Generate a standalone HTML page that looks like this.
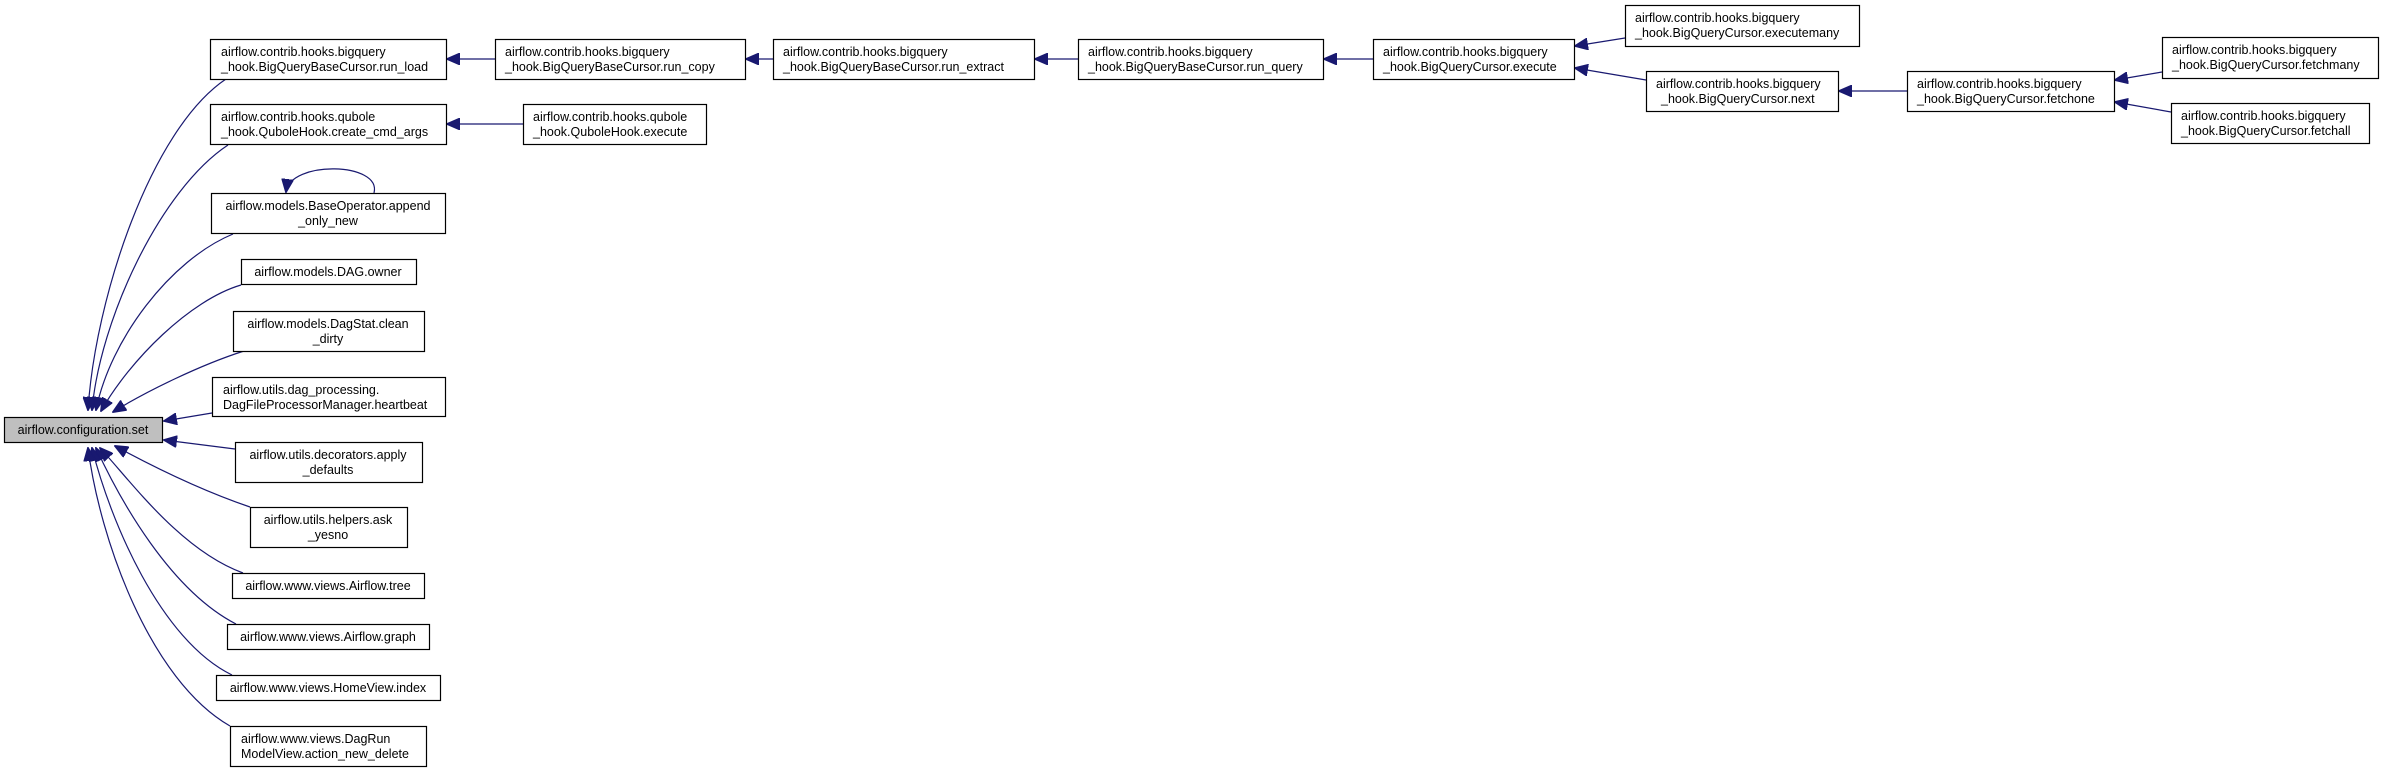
<!DOCTYPE html>
<html><head><meta charset="utf-8"><style>
html,body{margin:0;padding:0;background:#fff}
svg{display:block}
text{font-family:"Liberation Sans",Arial,sans-serif;font-size:12.5px;fill:#000}
rect{fill:#fff;stroke:#000;stroke-width:1.2}
path.e{fill:none;stroke:#191970;stroke-width:1.2}
</style></head><body>
<svg width="2385" height="772" viewBox="0 0 2385 772" xmlns="http://www.w3.org/2000/svg">
<defs><marker id="a" markerUnits="userSpaceOnUse" markerWidth="14" markerHeight="12" refX="13" refY="6" orient="auto"><path d="M0,0 L14,6 L0,12 z" fill="#191970" stroke="#191970"/></marker></defs>

<!-- edges -->
<g class="edges">
<path class="e" marker-end="url(#a)" d="M226,79 C150,130 95,300 88,410"/>
<path class="e" marker-end="url(#a)" d="M228,145 C160,190 100,320 92,410"/>
<path class="e" marker-end="url(#a)" d="M233,234 C170,260 110,340 96,410"/>
<path class="e" marker-end="url(#a)" d="M241,285 C190,300 130,360 101,411"/>
<path class="e" marker-end="url(#a)" d="M244,351 C200,365 145,392 113,412"/>
<path class="e" marker-end="url(#a)" d="M212,413 L164,421"/>
<path class="e" marker-end="url(#a)" d="M235,449 L164,440"/>
<path class="e" marker-end="url(#a)" d="M250,507 C200,490 150,465 115,446"/>
<path class="e" marker-end="url(#a)" d="M243,573 C180,550 130,480 100,448"/>
<path class="e" marker-end="url(#a)" d="M236,624 C170,590 120,500 96,448"/>
<path class="e" marker-end="url(#a)" d="M232,675 C160,640 110,520 92,448"/>
<path class="e" marker-end="url(#a)" d="M230,726 C150,680 100,540 88,448"/>
<path class="e" marker-end="url(#a)" d="M374,193 C382,162 290,160 286,192"/>
<path class="e" marker-end="url(#a)" d="M495,59 L447,59"/>
<path class="e" marker-end="url(#a)" d="M523,124 L447,124"/>
<path class="e" marker-end="url(#a)" d="M773,59 L746,59"/>
<path class="e" marker-end="url(#a)" d="M1078,59 L1035,59"/>
<path class="e" marker-end="url(#a)" d="M1373,59 L1324,59"/>
<path class="e" marker-end="url(#a)" d="M1625,38 L1575,46"/>
<path class="e" marker-end="url(#a)" d="M1646,80 L1575,68"/>
<path class="e" marker-end="url(#a)" d="M1907,91 L1839,91"/>
<path class="e" marker-end="url(#a)" d="M2162,72 L2115,80"/>
<path class="e" marker-end="url(#a)" d="M2171,112 L2115,102"/>
</g>

<!-- nodes -->
<rect x="4.5" y="417.5" width="158" height="25" style="fill:#bfbfbf"/>
<text x="83" y="434" text-anchor="middle">airflow.configuration.set</text>

<rect x="210.5" y="39.5" width="236" height="40"/>
<text x="221" y="56">airflow.contrib.hooks.bigquery</text><text x="221" y="71">_hook.BigQueryBaseCursor.run_load</text>

<rect x="210.5" y="104.5" width="236" height="40"/>
<text x="221" y="121">airflow.contrib.hooks.qubole</text><text x="221" y="136">_hook.QuboleHook.create_cmd_args</text>

<rect x="211.5" y="193.5" width="234" height="40"/>
<text x="328" y="210" text-anchor="middle">airflow.models.BaseOperator.append</text><text x="328" y="225" text-anchor="middle">_only_new</text>

<rect x="241.5" y="259.5" width="175" height="25"/>
<text x="328" y="276" text-anchor="middle">airflow.models.DAG.owner</text>

<rect x="233.5" y="311.5" width="191" height="40"/>
<text x="328" y="328" text-anchor="middle">airflow.models.DagStat.clean</text><text x="328" y="343" text-anchor="middle">_dirty</text>

<rect x="212.5" y="377.5" width="233" height="39"/>
<text x="223" y="394">airflow.utils.dag_processing.</text><text x="223" y="409">DagFileProcessorManager.heartbeat</text>

<rect x="235.5" y="442.5" width="187" height="40"/>
<text x="328" y="459" text-anchor="middle">airflow.utils.decorators.apply</text><text x="328" y="474" text-anchor="middle">_defaults</text>

<rect x="250.5" y="507.5" width="157" height="40"/>
<text x="328" y="524" text-anchor="middle">airflow.utils.helpers.ask</text><text x="328" y="539" text-anchor="middle">_yesno</text>

<rect x="232.5" y="573.5" width="192" height="25"/>
<text x="328" y="590" text-anchor="middle">airflow.www.views.Airflow.tree</text>

<rect x="227.5" y="624.5" width="202" height="25"/>
<text x="328" y="641" text-anchor="middle">airflow.www.views.Airflow.graph</text>

<rect x="216.5" y="675.5" width="224" height="25"/>
<text x="328" y="692" text-anchor="middle">airflow.www.views.HomeView.index</text>

<rect x="230.5" y="726.5" width="196" height="40"/>
<text x="241" y="743">airflow.www.views.DagRun</text><text x="241" y="758">ModelView.action_new_delete</text>

<rect x="495.5" y="39.5" width="250" height="40"/>
<text x="505" y="56">airflow.contrib.hooks.bigquery</text><text x="505" y="71">_hook.BigQueryBaseCursor.run_copy</text>

<rect x="523.5" y="104.5" width="183" height="40"/>
<text x="533" y="121">airflow.contrib.hooks.qubole</text><text x="533" y="136">_hook.QuboleHook.execute</text>

<rect x="773.5" y="39.5" width="261" height="40"/>
<text x="783" y="56">airflow.contrib.hooks.bigquery</text><text x="783" y="71">_hook.BigQueryBaseCursor.run_extract</text>

<rect x="1078.5" y="39.5" width="245" height="40"/>
<text x="1088" y="56">airflow.contrib.hooks.bigquery</text><text x="1088" y="71">_hook.BigQueryBaseCursor.run_query</text>

<rect x="1373.5" y="39.5" width="201" height="40"/>
<text x="1383" y="56">airflow.contrib.hooks.bigquery</text><text x="1383" y="71">_hook.BigQueryCursor.execute</text>

<rect x="1625.5" y="5.5" width="234" height="41"/>
<text x="1635" y="22">airflow.contrib.hooks.bigquery</text><text x="1635" y="37">_hook.BigQueryCursor.executemany</text>

<rect x="1646.5" y="71.5" width="192" height="40"/>
<text x="1656" y="88">airflow.contrib.hooks.bigquery</text><text x="1661" y="103">_hook.BigQueryCursor.next</text>

<rect x="1907.5" y="71.5" width="207" height="40"/>
<text x="1917" y="88">airflow.contrib.hooks.bigquery</text><text x="1917" y="103">_hook.BigQueryCursor.fetchone</text>

<rect x="2162.5" y="37.5" width="216" height="41"/>
<text x="2172" y="54">airflow.contrib.hooks.bigquery</text><text x="2172" y="69">_hook.BigQueryCursor.fetchmany</text>

<rect x="2171.5" y="103.5" width="198" height="40"/>
<text x="2181" y="120">airflow.contrib.hooks.bigquery</text><text x="2181" y="135">_hook.BigQueryCursor.fetchall</text>
</svg>
</body></html>
